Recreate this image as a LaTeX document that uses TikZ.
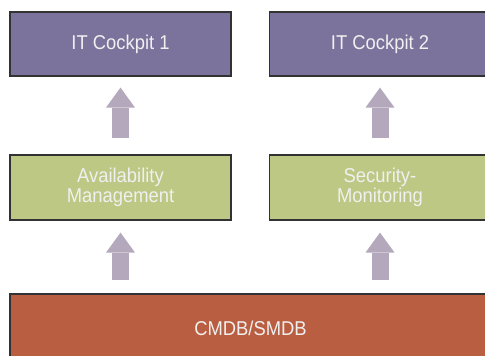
\documentclass[tikz,border=0pt]{standalone}
\usepackage{fontspec}
\setmainfont{Liberation Sans}[FakeStretch=0.92]
\usepackage{tikz}
\usetikzlibrary{arrows,arrows.meta}
\usetikzlibrary{calc}
\definecolor{cockpit}{RGB}{123,115,155}
\definecolor{process}{RGB}{189,200,133}
\definecolor{database}{RGB}{186,94,65}
\definecolor{flow}{RGB}{179,168,188}
\definecolor{rim}{RGB}{50,50,50}
\tikzstyle{box} = [draw=rim, line width=0.9pt, inner sep=0pt,
                   text=white!94!black, align=center,
                   font=\fontsize{15pt}{15pt}\selectfont]
\tikzstyle{flowarrow} = [%
                   draw=flow, line width=12.75pt,
                   -{Triangle[width=21.75pt, length=15pt, line width=0pt]}
                   ]

\begin{document}
\begin{tikzpicture}[x=0.75pt, y=-0.75pt]
    % pixel units, y runs downwards
    \def\boxw   {165.75pt}   % width of one column box
    \def\boxh   {48pt}       % height of the upper boxes
    \def\leftx  {120.5}      % centre of left column
    \def\rightx {380}        % centre of right column

    \useasboundingbox (0,0) rectangle (485,355);
    \clip (0,0) rectangle (485,355);

    % cockpits on top
    \node[box, fill=cockpit, minimum width=\boxw, minimum height=\boxh] (cockpit1) at (\leftx,44) {IT Cockpit 1};
    \node[box, fill=cockpit, minimum width=\boxw, minimum height=\boxh] (cockpit2) at (\rightx,44) {IT Cockpit 2};

    % the two processes
    \node[box, fill=process, minimum width=\boxw, minimum height=48.75pt] (avail) at (\leftx,187.5) {Availability\\Management};
    \node[box, fill=process, minimum width=\boxw, minimum height=48.75pt] (secmon) at (\rightx,187.5) {Security-\\Monitoring};

    % database underneath
    \node[box, fill=database, minimum width=360.75pt, minimum height=51pt] (cmdb) at (250.5,328) {CMDB/SMDB};

    % block arrows
    \draw[flowarrow, shorten <=12pt, shorten >=8.25pt] (avail.north) -- (cockpit1.south);
    \draw[flowarrow, shorten <=12pt, shorten >=8.25pt] (secmon.north) -- (cockpit2.south);
    \draw[flowarrow, shorten <=9.75pt, shorten >=9pt] (avail.south |- cmdb.north) -- (avail.south);
    \draw[flowarrow, shorten <=9.75pt, shorten >=9pt] (secmon.south |- cmdb.north) -- (secmon.south);

\end{tikzpicture}
\end{document}
